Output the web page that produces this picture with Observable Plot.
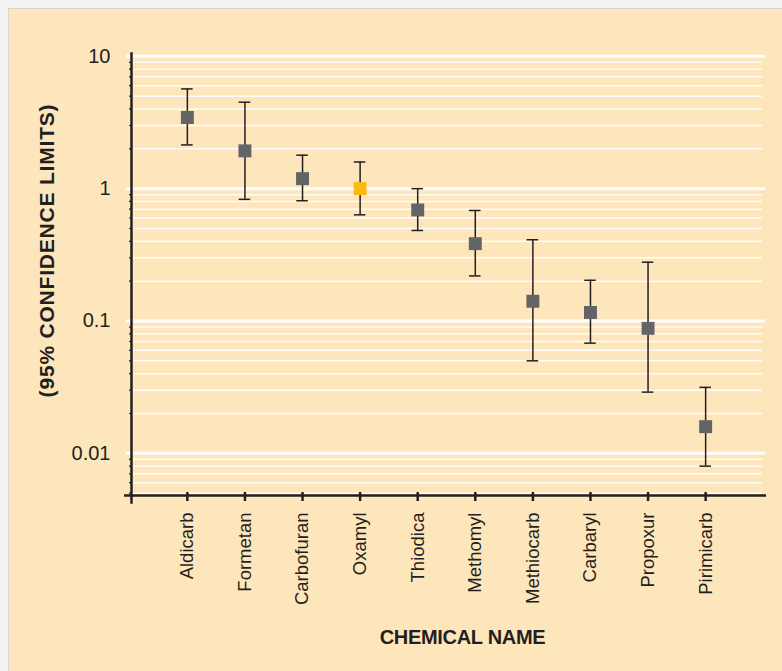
<!DOCTYPE html>
<html>
<head>
<meta charset="utf-8">
<script src="https://cdn.jsdelivr.net/npm/d3@7"></script>
<script src="https://cdn.jsdelivr.net/npm/@observablehq/plot@0.6"></script>
<style>
  html, body { margin: 0; padding: 0; }
  body { width: 782px; height: 671px; background: #f3f3f3; position: relative; overflow: hidden; }
  #panel { position: absolute; left: 8px; top: 8px; right: 0; bottom: 0; background: #fde5bc;
           border-top: 1px solid #d4d4d4; border-left: 1px solid #d4d4d4; }
  #chart { position: absolute; left: 0; top: 0; }
</style>
</head>
<body>
<div id="panel"></div>
<div id="chart"></div>
<script>
const chemicals = ["Aldicarb","Formetan","Carbofuran","Oxamyl","Thiodica","Methomyl","Methiocarb","Carbaryl","Propoxur","Pirimicarb"];
const estimate  = [3.45, 1.93, 1.19, 1.0, 0.69, 0.384, 0.141, 0.116, 0.088, 0.0159];
const upperCL   = [5.67, 4.5, 1.79, 1.59, 1.0, 0.684, 0.411, 0.203, 0.278, 0.0315];
const lowerCL   = [2.14, 0.83, 0.81, 0.634, 0.483, 0.219, 0.05, 0.068, 0.029, 0.008];
const highlighted = "Oxamyl";
const majorTicks = [0.01, 0.1, 1, 10];
const majorTickLabels = ["0.01", "0.1", "1", "10"];
const minorTicks = [0.005,0.006,0.007,0.008,0.009, 0.02,0.03,0.04,0.05,0.06,0.07,0.08,0.09,
                    0.2,0.3,0.4,0.5,0.6,0.7,0.8,0.9, 2,3,4,5,6,7,8,9];
const yDomain = [0.0048, 10.5];
const xTitle = "CHEMICAL NAME";
const yTitle = "(95% CONFIDENCE LIMITS)";

const data = chemicals.map((name, i) => ({
  name, value: estimate[i], hi: upperCL[i], lo: lowerCL[i],
  color: name === highlighted ? "#fdb913" : "#636466"
}));

const ink = "#231f20";
const chart = Plot.plot({
  width: 782,
  height: 671,
  marginLeft: 131,
  marginRight: 21,
  marginTop: 53,
  marginBottom: 176,
  style: { background: "transparent", fontFamily: "'Liberation Sans', Arial, sans-serif", color: ink },
  x: { type: "band", domain: chemicals, paddingInner: 0.8, paddingOuter: 0.87, round: false, label: null, axis: null },
  y: { type: "log", domain: yDomain, label: null, axis: null },
  marks: [
    Plot.ruleY(minorTicks, { stroke: "white", strokeWidth: 1.5, strokeOpacity: 0.9, insetRight: -1 }),
    Plot.ruleY(majorTicks, { stroke: "white", strokeWidth: 3, insetLeft: -5, insetRight: -4 }),
    Plot.axisY({ ticks: minorTicks, tickSize: 2, tickFormat: () => "", stroke: ink, strokeWidth: 1.2 }),
    Plot.axisY({ ticks: majorTicks, tickSize: 0, tickPadding: 21, fontSize: 20, fill: ink,
                 tickFormat: d => majorTickLabels[majorTicks.indexOf(d)] }),
    Plot.ruleY([yDomain[0]], { stroke: ink, strokeWidth: 2.5, insetLeft: -7, insetRight: -5 }),
    Plot.frame({ anchor: "left", stroke: ink, strokeWidth: 2.5, insetBottom: -7 }),
    Plot.axisX({ tickSize: 9, dy: -3, tickFormat: () => "", stroke: ink, strokeWidth: 2.5 }),
    Plot.axisX({ tickSize: 0, tickPadding: 17, tickRotate: -90, fontSize: 18.5, fill: ink }),
    Plot.ruleX(data, { x: "name", y1: "lo", y2: "hi", stroke: ink, strokeWidth: 1.5 }),
    Plot.tickY(data, { x: "name", y: "hi", stroke: ink, strokeWidth: 1.5 }),
    Plot.tickY(data, { x: "name", y: "lo", stroke: ink, strokeWidth: 1.5 }),
    Plot.dot(data, { x: "name", y: "value", symbol: "square", r: 7.3, fill: "color", stroke: null }),
    Plot.text([yTitle], { frameAnchor: "left", textAnchor: "middle", lineAnchor: "middle",
                          dx: -84, dy: -24, rotate: -90, fontSize: 21, fontWeight: "bold", fill: ink }),
    Plot.text([xTitle], { frameAnchor: "bottom", textAnchor: "middle", lineAnchor: "middle",
                          dx: 16, dy: 142, fontSize: 20, fontWeight: "bold", fill: ink })
  ]
});
chart.querySelectorAll("text").forEach(t => {
  if (t.textContent === yTitle) t.setAttribute("letter-spacing", "0.8");
  if (t.textContent === xTitle) t.setAttribute("letter-spacing", "-0.3");
});
document.getElementById("chart").appendChild(chart);
</script>
</body>
</html>
